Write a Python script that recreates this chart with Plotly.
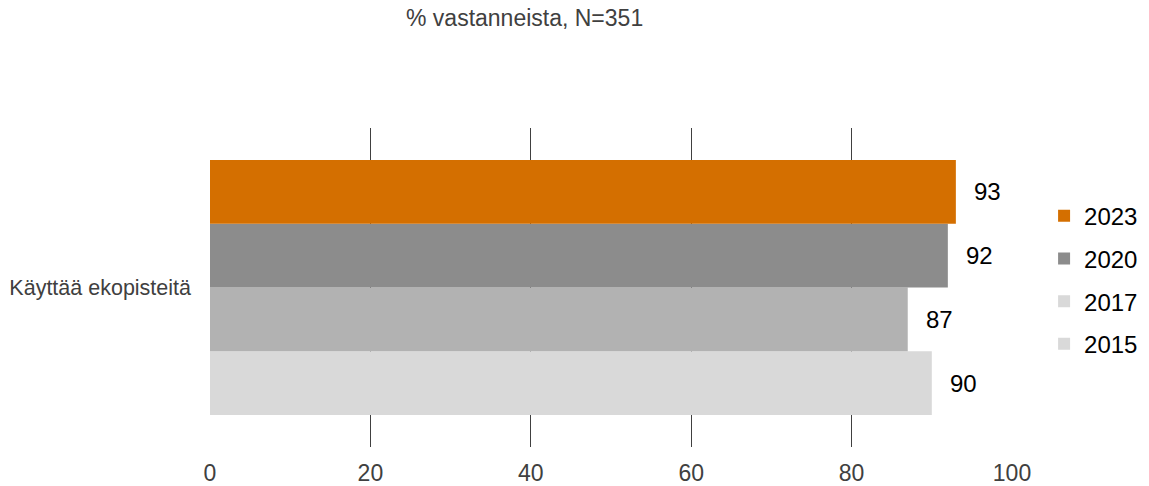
import plotly.graph_objects as go

category = ["Käyttää ekopisteitä"]
years = ["2015", "2017", "2020", "2023"]
values = {"2015": [90], "2017": [87], "2020": [92], "2023": [93]}
bar_colors = {"2015": "#d9d9d9", "2017": "#b2b2b2", "2020": "#8c8c8c", "2023": "#d46f00"}
legend_colors = {"2015": "#d9d9d9", "2017": "#d9d9d9", "2020": "#8c8c8c", "2023": "#d46f00"}
tick_vals = [0, 20, 40, 60, 80, 100]
title_text = "% vastanneista, N=351"

FONT = "Liberation Sans, Arial, sans-serif"

fig = go.Figure()
for y in years:
    fig.add_trace(go.Bar(
        name=y, y=category, x=values[y], orientation="h",
        marker=dict(color=bar_colors[y], line=dict(width=0)),
        showlegend=False, hoverinfo="x+name",
    ))
for y in reversed(years):
    # legend-only proxy on a hidden overlay axis (legend swatch colours differ from bars in reference)
    fig.add_trace(go.Bar(
        name=y, y=[None], x=[None], orientation="h", yaxis="y2",
        marker=dict(color=legend_colors[y], line=dict(width=0)),
        showlegend=True, legendgroup=y,
    ))

# value labels as annotations placed by data coordinates
n = len(years)
for i, y in enumerate(years):
    offset = (i - (n - 1) / 2) * (0.8 / n)
    fig.add_annotation(
        x=values[y][0], y=offset, xref="x", yref="y",
        text=str(values[y][0]), showarrow=False,
        xanchor="left", xshift=16,
        font=dict(family=FONT, size=24, color="#000000"),
    )

fig.add_annotation(
    x=(524 - 210) / 802, y=1, xref="paper", yref="paper", yanchor="middle",
    yshift=110, text=title_text, showarrow=False,
    font=dict(family=FONT, size=23, color="#404040"),
)

fig.update_layout(
    width=1149, height=486,
    margin=dict(l=210, r=137, t=128, b=39, autoexpand=False),
    paper_bgcolor="white", plot_bgcolor="white",
    barmode="group", bargap=0.2, bargroupgap=0,
    font=dict(family=FONT),
    showlegend=True,
    legend=dict(
        x=1.040, xanchor="left", y=0.523, yanchor="middle",
        traceorder="grouped", tracegroupgap=8.5,
        font=dict(family=FONT, size=24, color="#000000"),
        bgcolor="rgba(0,0,0,0)",
    ),
    xaxis=dict(
        range=[0, 100], tickvals=tick_vals, showgrid=True,
        gridcolor="#404040", gridwidth=1, zeroline=False, showline=False,
        tickfont=dict(family=FONT, size=23, color="#404040"),
        ticks="", ticklabelstandoff=10, fixedrange=True, automargin=False,
    ),
    yaxis=dict(
        showgrid=False, zeroline=False, showline=False, ticks="",
        tickfont=dict(family=FONT, size=21.5, color="#404040"),
        ticklabelstandoff=18, automargin=False,
    ),
    yaxis2=dict(
        overlaying="y", visible=False, showgrid=False, zeroline=False,
    ),
)

fig.write_html(
    "out.html",
    config={"displayModeBar": False},
    post_script="document.body.style.margin='0';document.body.style.overflow='hidden';",
)
